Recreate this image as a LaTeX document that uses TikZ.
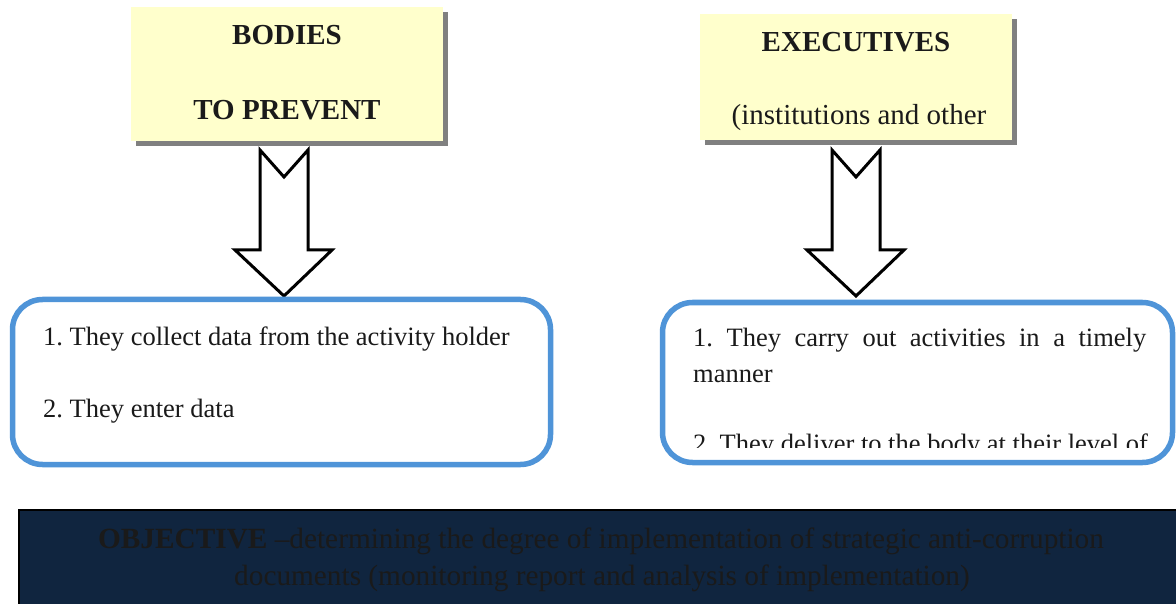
\documentclass[tikz,border=0pt]{standalone}
\usepackage{fontspec}
\setmainfont{Liberation Serif}
\frenchspacing
\definecolor{ybg}{HTML}{FFFFCC}
\definecolor{shadowgray}{HTML}{808080}
\definecolor{boxblue}{HTML}{4F94D8}
\definecolor{navy}{HTML}{10253F}
\definecolor{darktext}{HTML}{1A1A1A}
\tikzset{
  headbox/.style={fill=ybg, draw=none, inner sep=0pt, minimum width=312pt, minimum height=134pt},
  shadowbox/.style={fill=shadowgray, draw=none, inner sep=0pt, minimum width=312pt, minimum height=134pt},
  headtxt/.style={inner sep=0pt, anchor=base, text=darktext, font=\fontsize{29}{34}\selectfont},
  bodytxt/.style={inner sep=0pt, anchor=base west, text=darktext, font=\fontsize{26.5}{36}\selectfont},
  objtxt/.style={inner sep=0pt, anchor=base, text=darktext, font=\fontsize{29.3}{37}\selectfont},
  roundbox/.style={draw=boxblue, line width=5.5pt, rounded corners=30pt, fill=white},
  blockarrow/.pic={\draw[line width=3pt, line join=miter, fill=white]
     (-24,0) -- (0,27) -- (24,0) -- (24,100) -- (48,100) -- (0,146) -- (-49,100) -- (-24,100) -- cycle;}
}
\begin{document}
\begin{tikzpicture}[x=1pt,y=-1pt]
\useasboundingbox (0,0) rectangle (1176,604);
\fill[white] (0,0) rectangle (1176,604);
% heading boxes
\node[shadowbox] (bodiesshadow) at (292,79) {};
\node[headbox] (bodies) at (287,74) {};
\node[shadowbox, minimum height=126pt] (execshadow) at (861,82) {};
\node[headbox, minimum height=126pt] (exec) at (856,77) {};
\node[headtxt, font=\bfseries\fontsize{29}{34}\selectfont] (t1) at (287,45) {BODIES};
\node[headtxt, font=\bfseries\fontsize{29}{34}\selectfont] (t2) at (287,120) {TO PREVENT};
\node[headtxt, font=\bfseries\fontsize{29}{34}\selectfont] (t3) at (856,52) {EXECUTIVES};
\node[headtxt] (t4) at (859,125) {(institutions and other};
% arrows
\coordinate (la) at (284,150);
\coordinate (ra) at (856,150);
\pic at (la) {blockarrow};
\pic at (ra) {blockarrow};
% rounded boxes
\draw[roundbox] (12.5,299.5) rectangle (550.5,464.5);
\node[bodytxt] (l1) at (43,345) {1. They collect data from the activity holder};
\node[bodytxt] (l2) at (43,417) {2. They enter data};
\draw[roundbox] (662.5,302.5) rectangle (1172.5,462.5);
\node[bodytxt] (r1) at (693,346) {\makebox[453pt][s]{1. They carry out activities in a timely}};
\node[bodytxt] (r2) at (693,382) {manner};
\begin{scope}
\clip (665,305) rectangle (1170,447);
\node[bodytxt] (r3) at (693,452) {2. They deliver to the body at their level of};
\end{scope}
% objective box
\fill[navy] (19,510) rectangle (1178,606);
\draw[black, line width=2pt] (19,606) -- (19,510) -- (1178,510);
\node[objtxt] (o1) at (601,548) {\textbf{OBJECTIVE} –determining the degree of implementation of strategic anti-corruption};
\node[objtxt] (o2) at (602,585) {documents (monitoring report and analysis of implementation)};
\end{tikzpicture}
\end{document}
